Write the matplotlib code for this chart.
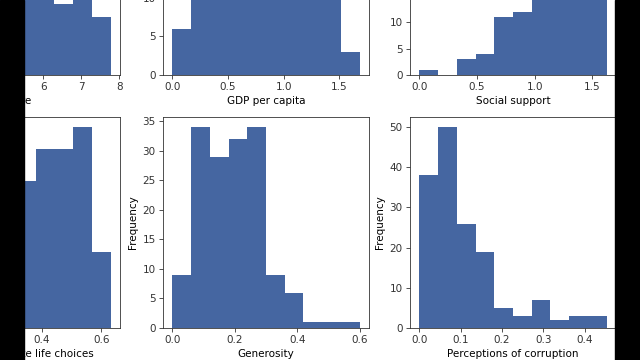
import matplotlib
matplotlib.use("Agg")
import matplotlib.pyplot as plt
import numpy as np
from matplotlib.patches import Rectangle

# histogram counts (10 bins each)
score_range = (2.853, 7.769)
score_counts = [2, 6, 13, 20, 26, 24, 31, 11, 14, 9]

gdp_range = (0.0, 1.684)
gdp_counts = [6, 13, 17, 20, 22, 26, 23, 14, 12, 3]

social_range = (0.0, 1.624)
social_counts = [1, 0, 3, 4, 11, 12, 21, 33, 38, 33]

freedom_range = (0.0, 0.631)
freedom_counts = [1, 2, 3, 2, 4, 27, 33, 33, 37, 14]

generosity_range = (0.0, 0.6)
generosity_counts = [9, 34, 29, 32, 34, 9, 6, 1, 1, 1]

corruption_range = (0.0, 0.453)
corruption_counts = [38, 50, 26, 19, 5, 3, 7, 2, 3, 3]

plt.rcParams['font.family'] = 'DejaVu Sans'
plt.rcParams['font.size'] = 7.5
plt.rcParams['axes.linewidth'] = 0.6
plt.rcParams['xtick.major.size'] = 2.6
plt.rcParams['ytick.major.size'] = 2.6
plt.rcParams['xtick.major.width'] = 0.6
plt.rcParams['ytick.major.width'] = 0.6
plt.rcParams['xtick.major.pad'] = 2.6
plt.rcParams['ytick.major.pad'] = 2.6
plt.rcParams['axes.labelpad'] = 3
plt.rcParams['text.color'] = '#333333'
plt.rcParams['xtick.color'] = '#333333'
plt.rcParams['ytick.color'] = '#333333'

W, H = 640, 360
fig = plt.figure(figsize=(6.4, 3.6), dpi=100, facecolor='white')

def px_axes(left, top, w, h):
    return fig.add_axes([left / W, (H - top - h) / H, w / W, h / H])

bar_color = '#4566a1'

def hist(ax, rng, counts, label):
    edges = np.linspace(rng[0], rng[1], len(counts) + 1)
    ax.hist(edges[:-1], bins=edges, weights=counts, color=bar_color)
    ax.set_xlabel(label)
    ax.set_ylabel('Frequency')
    for s in ax.spines.values():
        s.set_color('#333333')

aw, ah = 206, 211
# top row (mostly cut off above the frame)
hist(px_axes(-86, -136, aw, ah), score_range, score_counts, 'Score')
hist(px_axes(163, -136, aw, ah), gdp_range, gdp_counts, 'GDP per capita')
hist(px_axes(410, -136, aw, ah), social_range, social_counts, 'Social support')
# bottom row
hist(px_axes(-86, 117, aw, ah), freedom_range, freedom_counts, 'Freedom to make life choices')
hist(px_axes(163, 117, aw, ah), generosity_range, generosity_counts, 'Generosity')
hist(px_axes(410, 117, aw, ah), corruption_range, corruption_counts, 'Perceptions of corruption')

# black bars at the sides of the frame
fig.add_artist(Rectangle((0, 0), 24 / W, 1, transform=fig.transFigure, color='black', zorder=10))
fig.add_artist(Rectangle((615 / W, 0), 25 / W, 1, transform=fig.transFigure, color='black', zorder=10))

fig.savefig('out.png', dpi=100, facecolor='white')
